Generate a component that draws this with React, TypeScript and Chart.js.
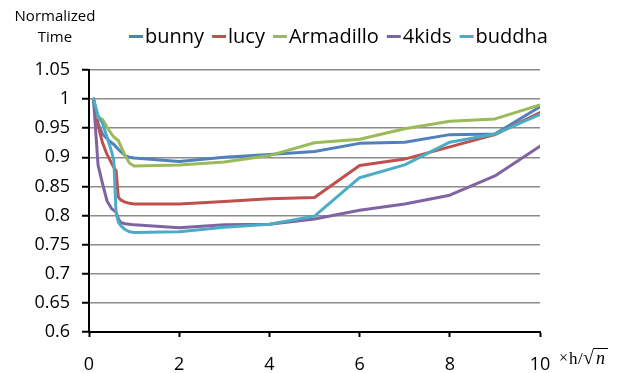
import React, { useEffect, useRef } from 'react';
import { Chart, registerables } from 'chart.js';

Chart.register(...registerables);

// ---- data ----
const xValues = [0.1, 0.2, 0.3, 0.4, 0.5, 0.55, 0.6, 0.65, 0.7, 0.8, 0.9, 1, 2, 3, 4, 5, 6, 7, 8, 9, 10];
const seriesNames = ['bunny', 'lucy', 'Armadillo', '4kids', 'buddha'];
const bunny = [1, 0.958, 0.94, 0.932, 0.925, 0.922, 0.918, 0.914, 0.91, 0.903, 0.9, 0.899, 0.893, 0.9, 0.905, 0.91, 0.924, 0.926, 0.939, 0.94, 0.987];
const lucy = [1, 0.955, 0.925, 0.905, 0.89, 0.883, 0.877, 0.832, 0.827, 0.823, 0.821, 0.82, 0.82, 0.824, 0.829, 0.831, 0.886, 0.897, 0.918, 0.939, 0.977];
const armadillo = [1, 0.968, 0.965, 0.952, 0.94, 0.935, 0.932, 0.929, 0.92, 0.903, 0.89, 0.885, 0.887, 0.892, 0.903, 0.925, 0.931, 0.949, 0.962, 0.966, 0.99];
const kids4 = [1, 0.887, 0.855, 0.825, 0.812, 0.809, 0.806, 0.795, 0.788, 0.786, 0.785, 0.784, 0.779, 0.784, 0.785, 0.794, 0.809, 0.82, 0.835, 0.868, 0.919];
const buddha = [1, 0.972, 0.958, 0.935, 0.91, 0.895, 0.805, 0.789, 0.783, 0.776, 0.772, 0.771, 0.772, 0.78, 0.785, 0.799, 0.865, 0.887, 0.926, 0.94, 0.974];
const seriesValues = [bunny, lucy, armadillo, kids4, buddha];
const seriesColors = ['#4F81BD', '#C0504D', '#9BBB59', '#8064A2', '#4BACC6'];
const yTitleLines = ['Normalized', 'Time'];
const yMin = 0.6;
const yMax = 1.05;
const yStep = 0.05;
const xMin = 0;
const xMax = 10;
const xStep = 2;

const SANS = '"Open Sans", "Noto Sans", sans-serif';
const SERIF = '"Liberation Serif", "DejaVu Serif", serif';

const overlayPlugin = {
  id: 'overlayText',
  afterDraw(chart: any) {
    const ctx = chart.ctx as CanvasRenderingContext2D;
    ctx.save();
    ctx.fillStyle = '#000';
    // y-axis title
    ctx.font = `15px ${SANS}`;
    ctx.textAlign = 'center';
    ctx.textBaseline = 'alphabetic';
    ctx.fillText(yTitleLines[0], 55, 21);
    ctx.fillText(yTitleLines[1], 55, 42);
    // legend
    ctx.font = `20px ${SANS}`;
    ctx.textAlign = 'left';
    let x = 129;
    chart.data.datasets.forEach((ds: any) => {
      ctx.strokeStyle = ds.borderColor;
      ctx.lineWidth = 3;
      ctx.beginPath();
      ctx.moveTo(x, 36.5);
      ctx.lineTo(x + 14, 36.5);
      ctx.stroke();
      ctx.fillText(ds.label, x + 16, 43);
      x += 16 + ctx.measureText(ds.label).width + 8;
    });
    // x unit label: × h / √n
    const base = 364;
    ctx.font = `16px ${SERIF}`;
    ctx.fillText('\u00d7', 559, base - 1);
    ctx.font = `17px ${SERIF}`;
    ctx.fillText('h', 569, base);
    ctx.fillText('/', 578, base);
    ctx.font = `20px ${SERIF}`;
    ctx.fillText('\u221a', 583, base);
    const rm = ctx.measureText('\u221a');
    const rTop = base - rm.actualBoundingBoxAscent;
    const rRight = 583 + rm.actualBoundingBoxRight;
    ctx.font = `italic 18px ${SERIF}`;
    ctx.fillText('n', rRight + 2, base);
    const nw = ctx.measureText('n').width;
    ctx.strokeStyle = '#000';
    ctx.lineWidth = 1;
    ctx.beginPath();
    ctx.moveTo(rRight - 0.5, rTop + 0.5);
    ctx.lineTo(rRight + nw + 5, rTop + 0.5);
    ctx.stroke();
    ctx.restore();
  },
};

export default function App() {
  const ref = useRef<HTMLCanvasElement | null>(null);
  useEffect(() => {
    if (!ref.current) return;
    const datasets = seriesNames.map((name, i) => ({
      label: name,
      data: xValues.map((xv, j) => ({ x: xv, y: seriesValues[i][j] })),
      borderColor: seriesColors[i],
      backgroundColor: seriesColors[i],
      borderWidth: 3,
      pointRadius: 0,
      tension: 0,
      fill: false,
      borderJoinStyle: 'round' as const,
      borderCapStyle: 'round' as const,
      order: seriesNames.length - i,
    }));
    const chart = new Chart(ref.current, {
      type: 'line',
      data: { datasets },
      options: {
        responsive: false,
        animation: false,
        layout: { padding: { left: 0, right: 89, top: 70, bottom: 0 } },
        plugins: { legend: { display: false }, tooltip: { enabled: false } },
        scales: {
          x: {
            type: 'linear',
            min: xMin,
            max: xMax,
            ticks: { stepSize: xStep, color: '#000', font: { family: SANS, size: 18 }, padding: 17, maxRotation: 0 },
            grid: { drawOnChartArea: false, drawTicks: true, tickLength: 5, tickColor: '#000', tickWidth: 2 },
            border: { color: '#000', width: 2 },
            afterFit: (s: any) => { s.height = 41; },
          },
          y: {
            type: 'linear',
            min: yMin,
            max: yMax,
            ticks: {
              stepSize: yStep,
              color: '#000',
              font: { family: SANS, size: 18 },
              padding: 12,
              callback: (v: any) => String(parseFloat(Number(v).toFixed(2))),
            },
            grid: { color: '#8c8c8c', lineWidth: 1.5, tickLength: 7, tickColor: '#000', tickWidth: 2 },
            border: { color: '#000', width: 2 },
            afterFit: (s: any) => { s.width = 89; },
          },
        },
      },
      plugins: [overlayPlugin],
    });
    let alive = true;
    if ((document as any).fonts && (document as any).fonts.load) {
      Promise.all([
        document.fonts.load(`18px "Open Sans"`),
        document.fonts.load(`15px "Liberation Serif"`),
        document.fonts.load(`italic 15px "Liberation Serif"`),
      ]).then(() => { if (alive) chart.update('none'); }, () => {});
    }
    return () => { alive = false; chart.destroy(); };
  }, []);
  return (
    <div style={{ position: 'absolute', left: 0, top: 0, width: 629, height: 373, background: '#fff' }}>
      <canvas ref={ref} width={629} height={373} style={{ display: 'block' }} />
    </div>
  );
}
